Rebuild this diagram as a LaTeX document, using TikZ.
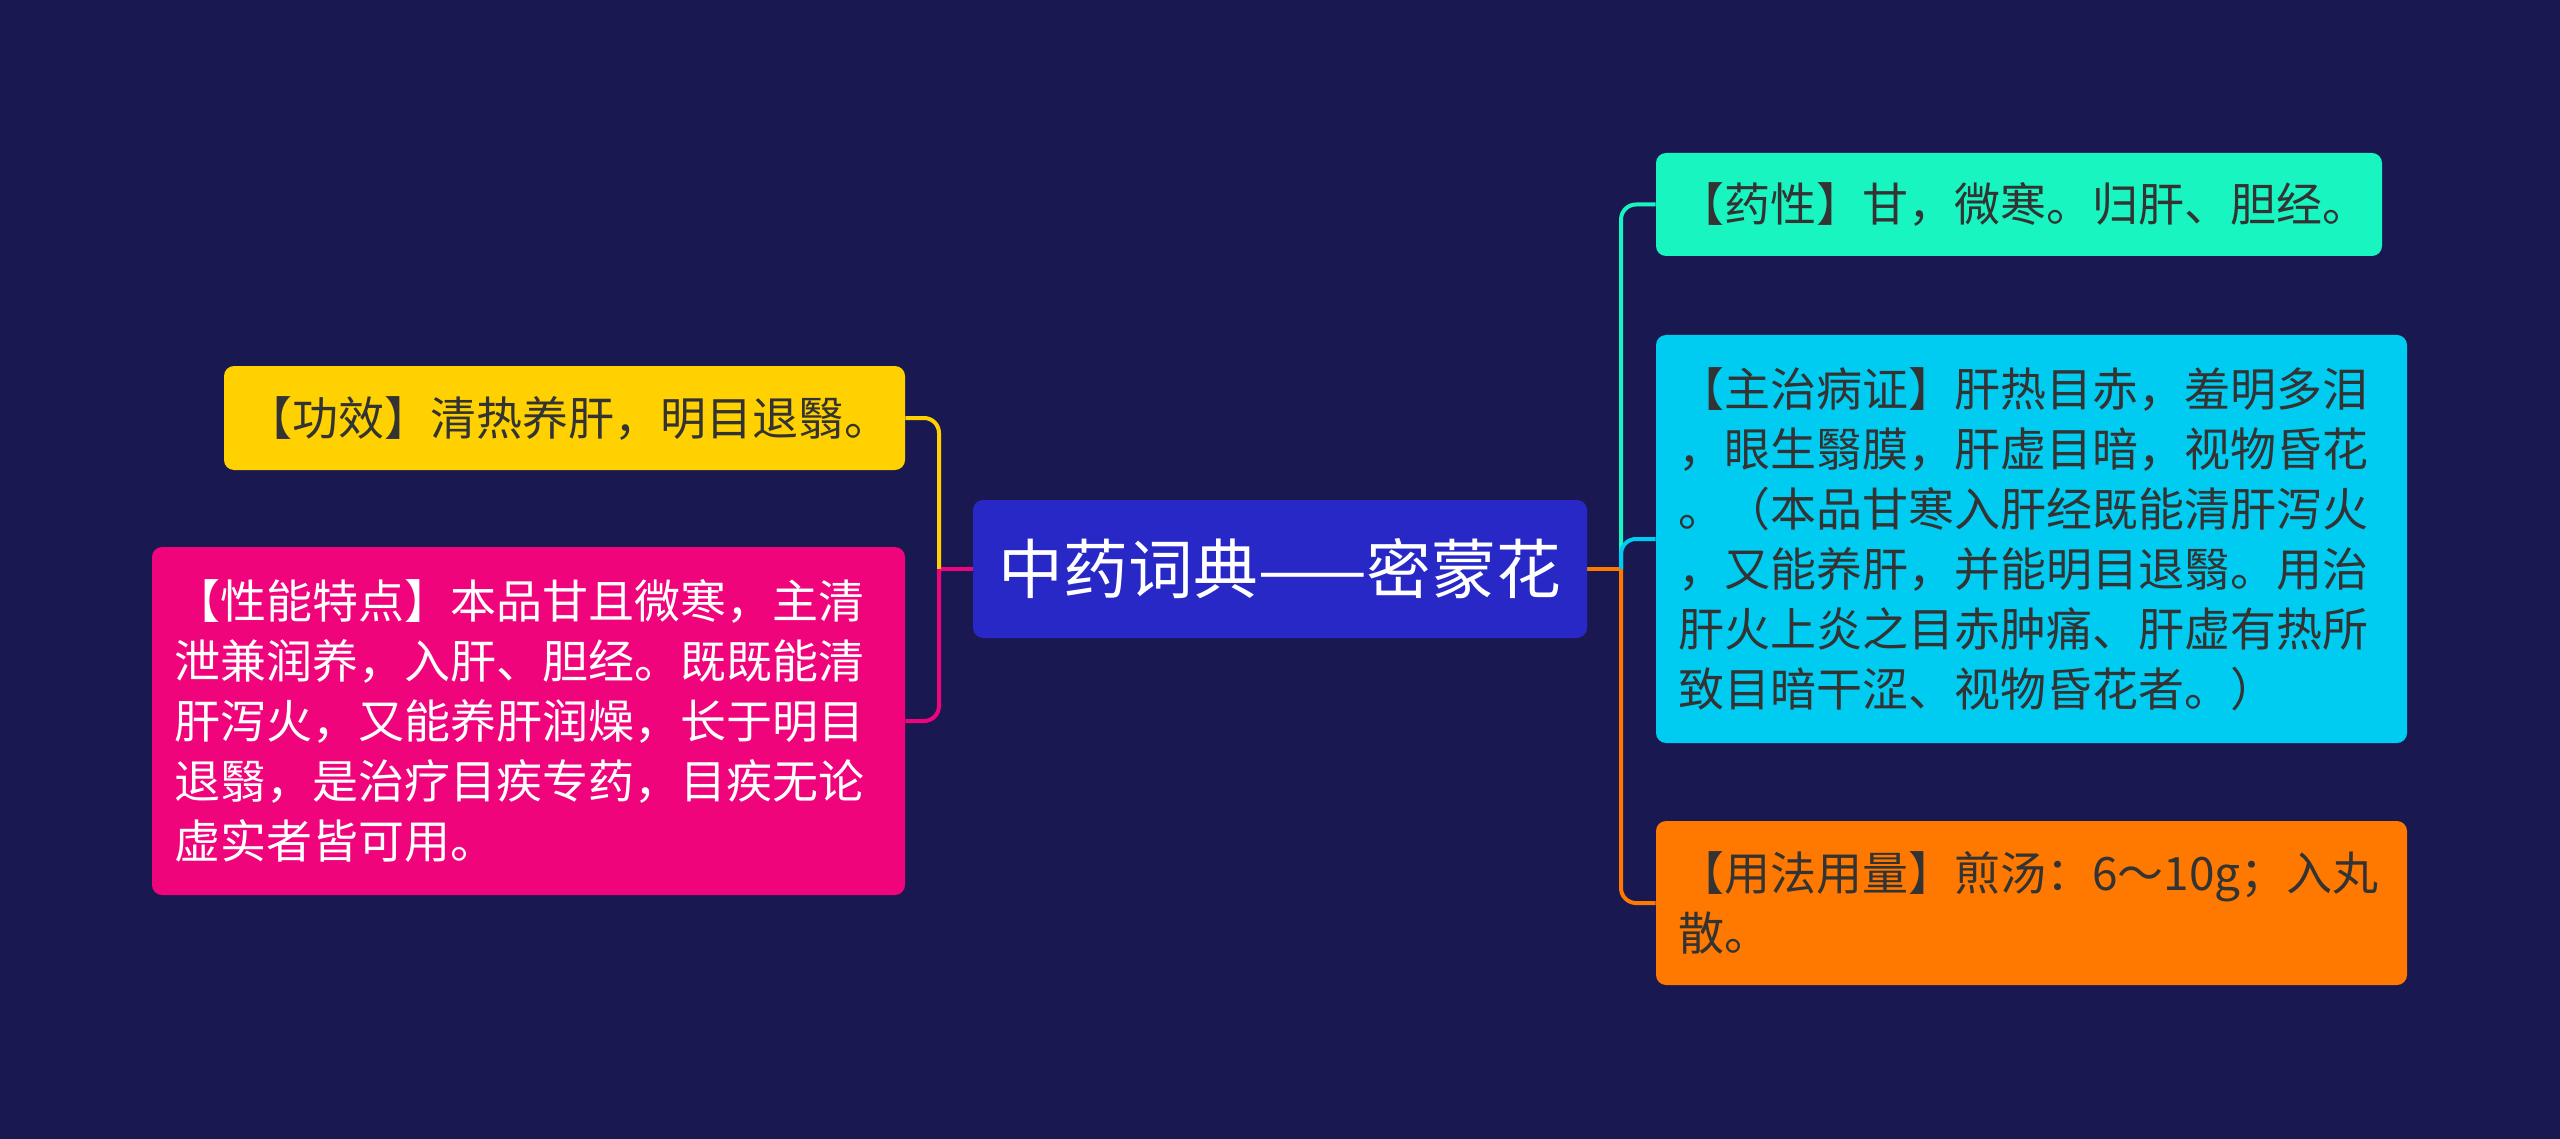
\documentclass[tikz,border=0pt]{standalone}
\usepackage{fontspec}
\setmainfont{Noto Sans CJK SC}
\usetikzlibrary{backgrounds}
\definecolor{bgc}{HTML}{1A1850}
\definecolor{rootc}{HTML}{2828C6}
\definecolor{yelc}{HTML}{FFD100}
\definecolor{pinkc}{HTML}{F0047C}
\definecolor{grnc}{HTML}{18F5C0}
\definecolor{cyac}{HTML}{00CCF2}
\definecolor{orac}{HTML}{FF7800}
\definecolor{dtext}{HTML}{333333}
\tikzset{
  box/.style={rounded corners=5pt, inner xsep=11pt, inner ysep=0pt, align=left,
    font=\fontsize{23}{30}\selectfont, anchor=center},
  conn/.style={line width=2pt, rounded corners=7.5pt}
}
\begin{document}
\begin{tikzpicture}[x=0.5pt,y=-0.5pt]
\useasboundingbox (0,0) rectangle (2560,1139);
% root
\node[box, fill=rootc, text=white, minimum width=307pt, minimum height=69pt, text width=285pt,
  align=center, font=\fontsize{32.4}{36}\selectfont] (root) at (1280,569) {中药词典——密蒙花};
% left
\node[box, fill=yelc, text=dtext, minimum width=340.5pt, minimum height=52pt, text width=318.5pt]
  (gx) at (564.5,418) {【功效】清热养肝，明目退翳。};
\node[box, fill=pinkc, text=white, minimum width=376.5pt, minimum height=174pt, text width=354.5pt]
  (tx) at (528.5,721) {【性能特点】本品甘且微寒，主清\\泄兼润养，入肝、胆经。既既能清\\肝泻火，又能养肝润燥，长于明目\\退翳，是治疗目疾专药，目疾无论\\虚实者皆可用。};
% right
\node[box, fill=grnc, text=dtext, minimum width=363pt, minimum height=51.5pt, text width=341pt]
  (yx) at (2019,204.5) {【药性】甘，微寒。归肝、胆经。};
\node[box, fill=cyac, text=dtext, minimum width=375.5pt, minimum height=204pt, text width=353.5pt]
  (zz) at (2031.5,539) {【主治病证】肝热目赤，羞明多泪\\，眼生翳膜，肝虚目暗，视物昏花\\。（本品甘寒入肝经既能清肝泻火\\，又能养肝，并能明目退翳。用治\\肝火上炎之目赤肿痛、肝虚有热所\\致目暗干涩、视物昏花者。）};
\node[box, fill=orac, text=dtext, minimum width=375.5pt, minimum height=82pt, text width=353.5pt]
  (yf) at (2031.5,903) {【用法用量】煎汤：6～10g；入丸\\散。};
\coordinate (jl) at (939,569);
\coordinate (jr) at (1621,569);
\begin{scope}[on background layer]
\fill[bgc] (0,0) rectangle (2560,1139);
\draw[conn, pinkc] (root.west) -- (jl);
\draw[conn, yelc] (jl) |- (gx.east);
\draw[conn, pinkc] (jl) |- (tx.east);
\draw[conn, orac] (root.east) -- (jr);
\draw[conn, grnc] (jr) |- (yx.west);
\draw[conn, cyac] (jr) |- (zz.west);
\draw[conn, orac] (jr) |- (yf.west);
\end{scope}
\end{tikzpicture}
\end{document}
